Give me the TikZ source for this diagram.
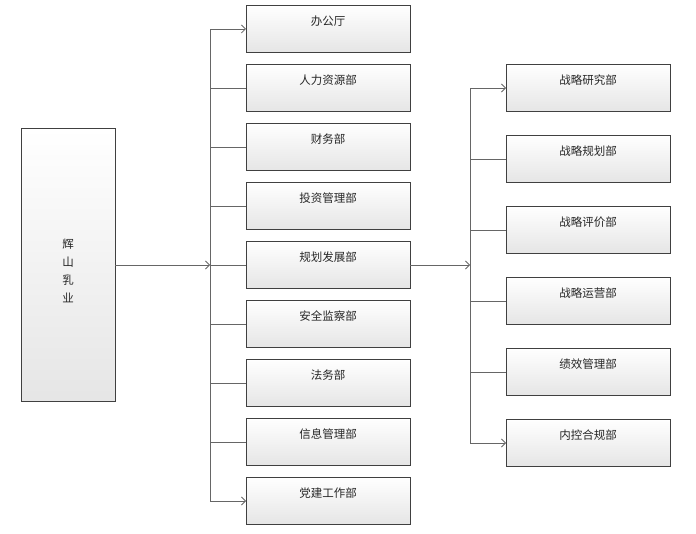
\documentclass[tikz,border=0pt]{standalone}
\usepackage{fontspec}
\setmainfont{Noto Sans CJK SC}
\usetikzlibrary{arrows.meta,calc}
\begin{document}
\begin{tikzpicture}[x=1pt,y=-1pt,
  dept/.style={draw=black!75,top color=white,bottom color=black!10,minimum width=164pt,minimum height=47pt,inner sep=0pt,anchor=north west},
  lab/.style={font=\fontsize{11.5}{14}\selectfont,text=black!85},
  ln/.style={draw=black!60,line width=0.8pt},
  arr/.style={ln,-{Straight Barb[length=4pt,width=8pt]}}]
\useasboundingbox (0,0) rectangle (696,534);
\node[dept,minimum width=94pt,minimum height=273pt] (root) at (21,128) {};
\node[lab,align=center,anchor=center] (rootlab) at (68,271) {辉\\[4pt]山\\[4pt]乳\\[4pt]业};
\foreach \t [count=\i] in {办公厅,人力资源部,财务部,投资管理部,规划发展部,安全监察部,法务部,信息管理部,党建工作部}{
  \node[dept] (m\i) at (246,{5+59*(\i-1)}) {};
  \node[lab] (ml\i) at ([yshift=-16pt]m\i.north) {\t};
  \coordinate (mp\i) at ($(m\i.north west)+(0,24)$);
  \coordinate (mb\i) at (210,{29+59*(\i-1)});
}
\foreach \t [count=\i] in {战略研究部,战略规划部,战略评价部,战略运营部,绩效管理部,内控合规部}{
  \node[dept] (r\i) at (506,{64+71*(\i-1)}) {};
  \node[lab] (rl\i) at ([yshift=-16pt]r\i.north) {\t};
  \coordinate (rp\i) at ($(r\i.north west)+(0,24)$);
  \coordinate (rb\i) at (470,{88+71*(\i-1)});
}
\coordinate (b1) at (210,265);
\coordinate (b2) at (470,265);
\draw[arr] (root.east |- b1) -- (b1);
\draw[arr] (m5.east |- b2) -- (b2);
\foreach \i in {2,...,8}{\draw[ln] (mb\i) -- (mp\i);}
\draw[arr] (b1) -- (mb1) -- (mp1);
\draw[arr] (b1) -- (mb9) -- (mp9);
\foreach \i in {2,...,5}{\draw[ln] (rb\i) -- (rp\i);}
\draw[arr] (b2) -- (rb1) -- (rp1);
\draw[arr] (b2) -- (rb6) -- (rp6);
\end{tikzpicture}
\end{document}
